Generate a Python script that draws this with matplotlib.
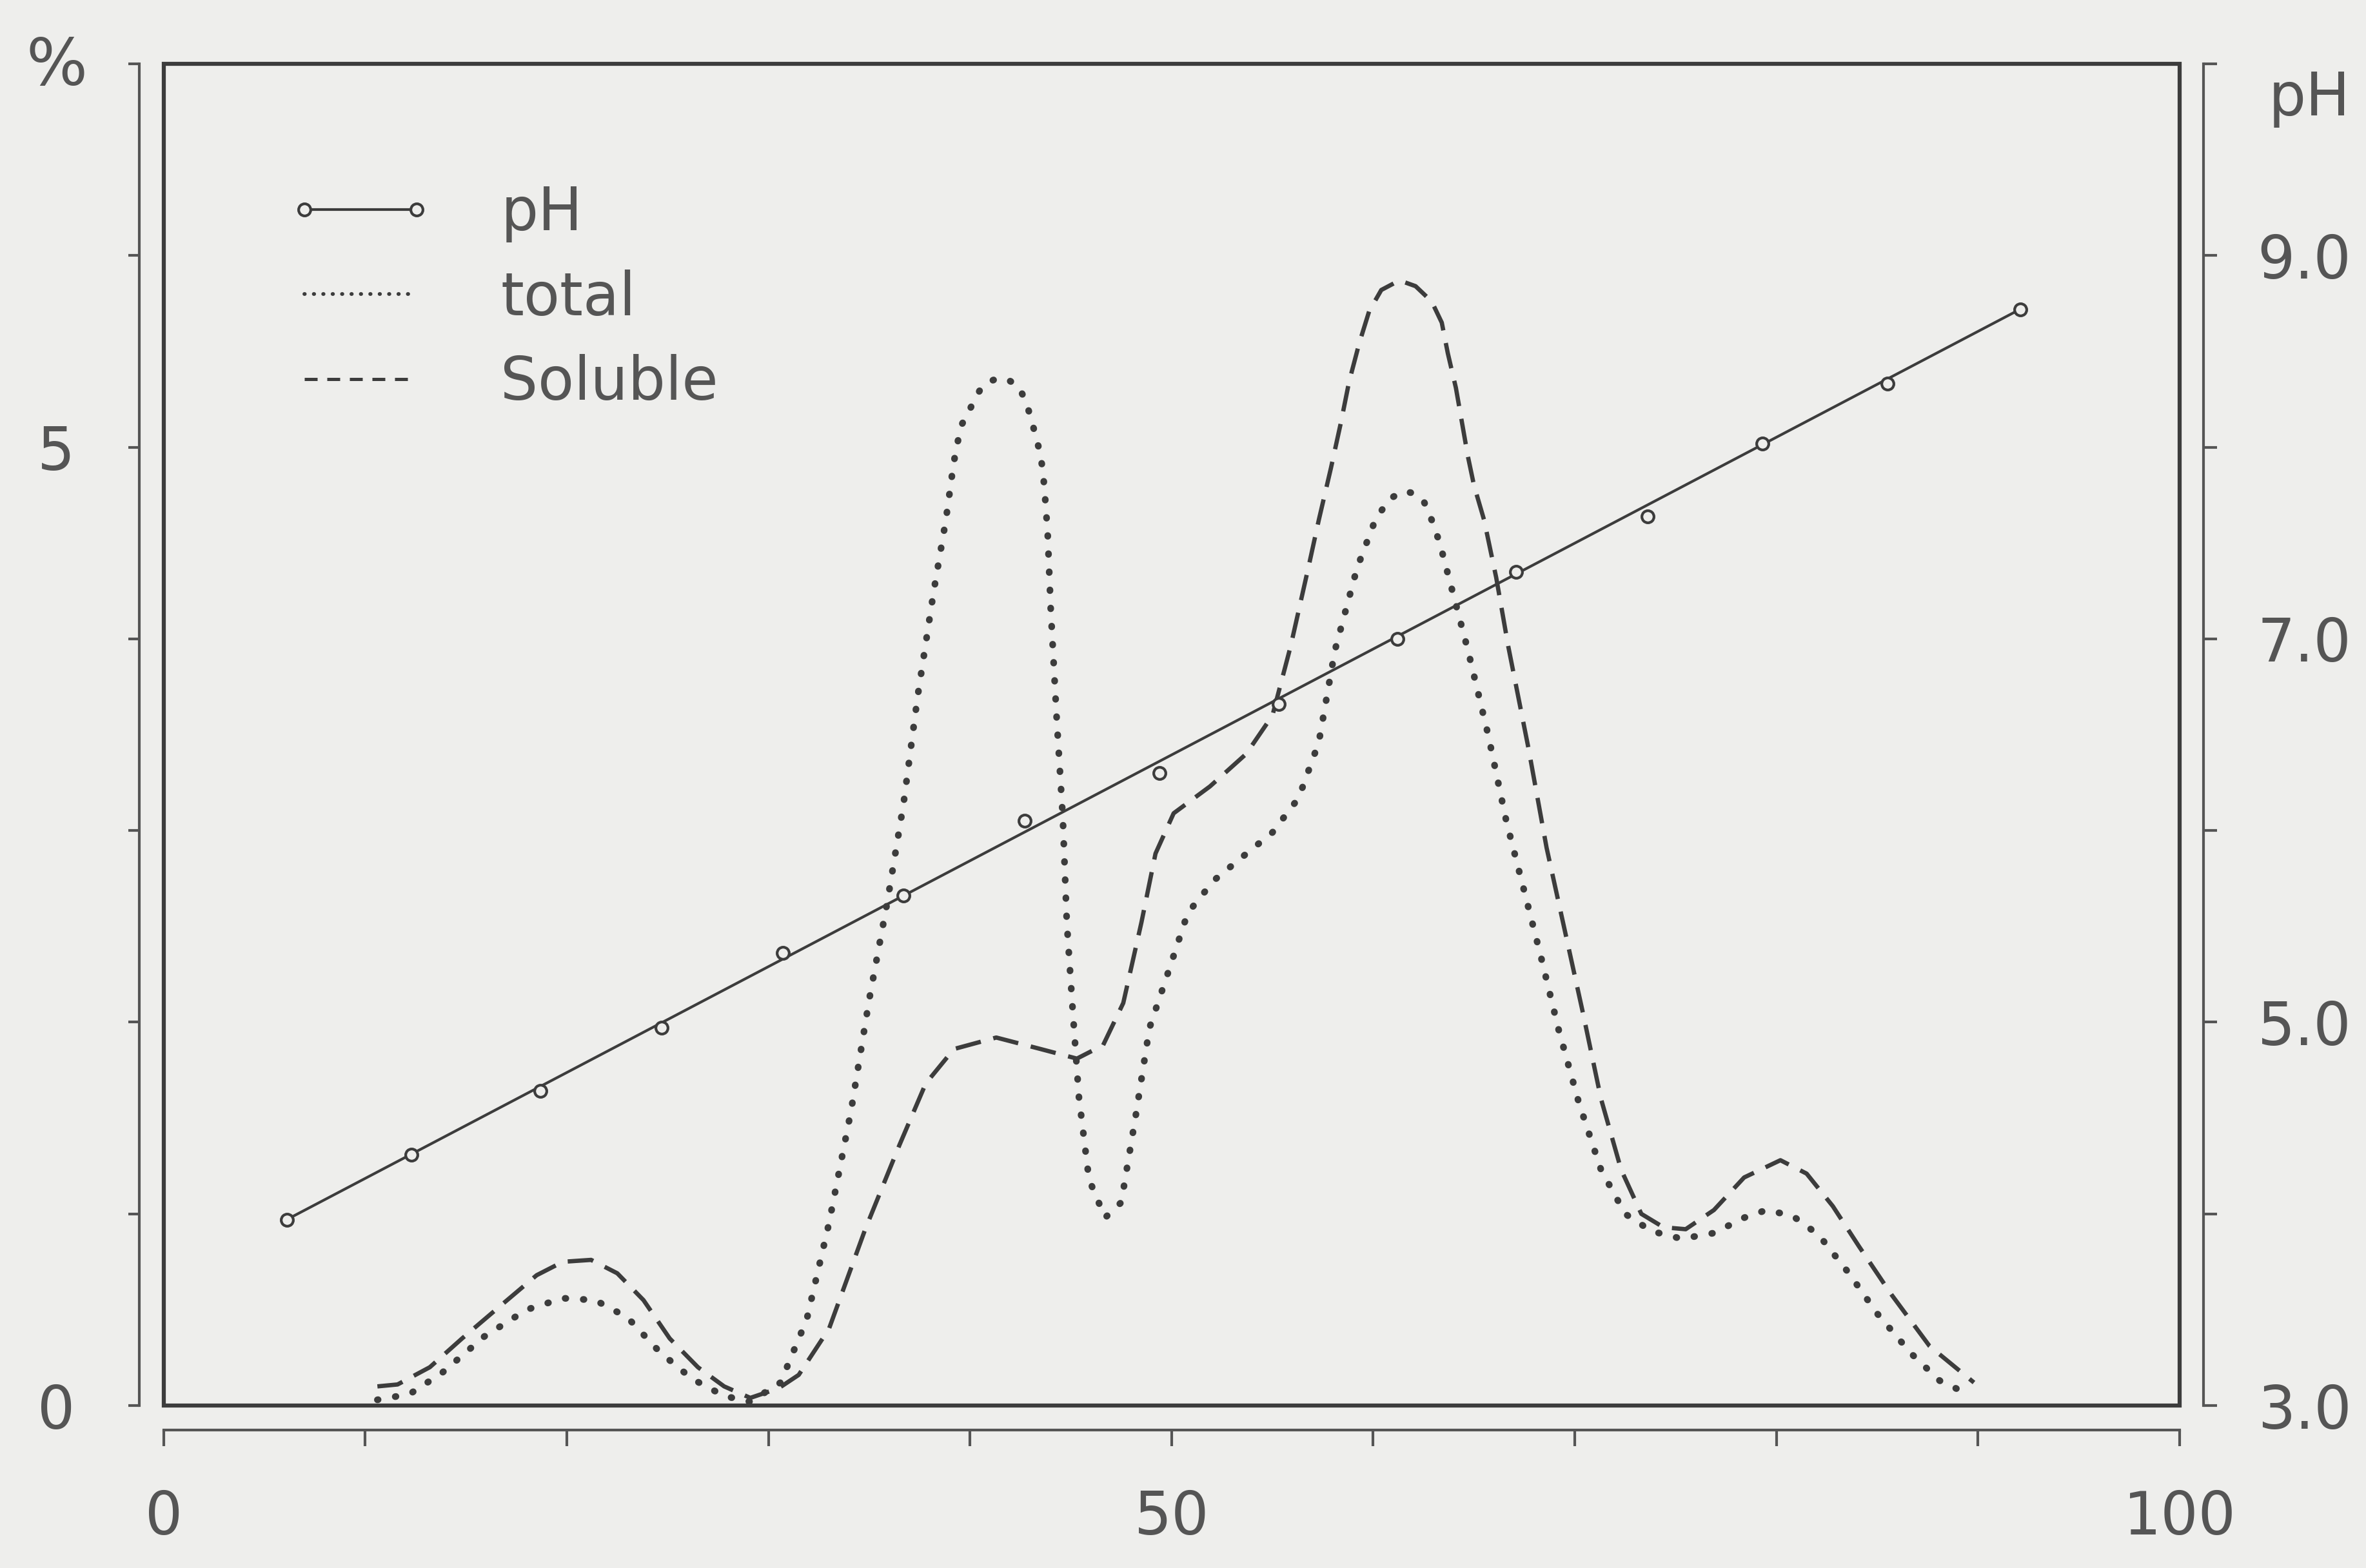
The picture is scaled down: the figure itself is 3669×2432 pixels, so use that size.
import numpy as np
import matplotlib
matplotlib.use('Agg')
import matplotlib.pyplot as plt
from matplotlib.lines import Line2D
from matplotlib.patches import Rectangle

# values
ph_x = [6.1, 12.3, 18.7, 24.7, 30.7, 36.7, 42.7, 49.4, 55.3, 61.2, 67.1, 73.6, 79.3, 85.5, 92.1]
ph = [3.97, 4.31, 4.64, 4.97, 5.36, 5.66, 6.05, 6.30, 6.66, 7.00, 7.35, 7.64, 8.02, 8.33, 8.72]

total_x = [10.6, 12.2, 13.8, 15.9, 18.0, 19.8, 21.4, 23.0, 24.6, 26.2, 27.8, 29.1, 30.6, 31.9,
           33.0, 34.1, 35.0, 35.9, 36.7, 37.4, 38.2, 38.8, 39.1, 39.3, 39.6, 40.0, 40.5, 40.9,
           41.4, 41.9, 42.4, 42.8, 43.1, 43.4, 43.6, 43.7, 43.85, 44.0, 44.3, 44.6, 44.8, 45.1,
           45.4, 45.9, 46.7, 47.5, 48.2, 48.9, 49.7, 50.8, 52.1, 53.6, 55.0, 56.3, 57.3, 58.1,
           59.2, 60.1, 60.8, 61.5, 62.0, 62.5, 62.9, 63.3, 64.0, 64.7, 65.7, 66.6, 67.5, 68.3,
           69.2, 70.2, 71.3, 72.5, 73.8, 75.3, 76.9, 78.4, 79.5, 80.8, 82.1, 83.6, 85.0, 86.7,
           88.1, 89.5]
total = [0.03, 0.06, 0.17, 0.36, 0.50, 0.56, 0.55, 0.46, 0.28, 0.14, 0.05, 0.02, 0.12, 0.45,
         0.95, 1.54, 2.12, 2.63, 3.14, 3.70, 4.25, 4.62, 4.85, 4.99, 5.12, 5.20, 5.30, 5.34,
         5.36, 5.35, 5.32, 5.23, 5.12, 5.00, 4.89, 4.77, 4.55, 4.16, 3.58, 3.07, 2.52, 2.05,
         1.61, 1.18, 0.98, 1.06, 1.50, 1.97, 2.22, 2.57, 2.74, 2.87, 2.99, 3.17, 3.46, 3.94,
         4.37, 4.62, 4.73, 4.77, 4.76, 4.72, 4.62, 4.50, 4.22, 3.94, 3.50, 3.05, 2.68, 2.35,
         1.96, 1.58, 1.23, 1.00, 0.91, 0.87, 0.90, 0.98, 1.02, 0.99, 0.89, 0.69, 0.48, 0.27,
         0.13, 0.06]

soluble_x = [10.6, 11.6, 13.2, 14.8, 16.7, 18.5, 19.8, 21.2, 22.5, 23.8, 25.1, 26.5, 27.8, 29.1,
             30.5, 31.5, 33.0, 34.8, 36.5, 37.8, 39.2, 41.3, 43.5, 45.3, 46.6, 47.6, 48.5, 49.2,
             50.1, 51.9, 53.7, 55.0, 55.9, 56.8, 57.3, 57.9, 58.4, 58.8, 59.3, 59.8, 60.4, 61.3,
             62.1, 62.9, 63.4, 63.7, 64.1, 64.4, 64.7, 65.0, 65.5, 66.1, 66.7, 67.7, 68.6, 69.5,
             70.4, 71.3, 72.3, 73.3, 74.4, 75.5, 76.9, 78.4, 80.2, 81.5, 82.8, 84.1, 85.7, 87.6,
             89.8]
soluble = [0.10, 0.11, 0.20, 0.35, 0.52, 0.68, 0.75, 0.76, 0.69, 0.55, 0.35, 0.20, 0.10, 0.04,
           0.09, 0.16, 0.40, 0.92, 1.36, 1.68, 1.86, 1.92, 1.86, 1.81, 1.88, 2.10, 2.52, 2.88,
           3.09, 3.23, 3.40, 3.60, 3.96, 4.38, 4.62, 4.89, 5.13, 5.34, 5.54, 5.71, 5.82, 5.87,
           5.84, 5.76, 5.65, 5.49, 5.31, 5.13, 4.95, 4.80, 4.62, 4.32, 3.96, 3.43, 2.91, 2.48,
           2.05, 1.60, 1.23, 1.00, 0.93, 0.92, 1.02, 1.19, 1.28, 1.21, 1.04, 0.83, 0.58, 0.31,
           0.12]

x_ticks = list(range(0, 101, 10))
x_labels = {0: '0', 50: '50', 100: '100'}
pct_ticks = list(range(0, 8))
pct_labels = {0: '0', 5: '5'}
ph_ticks = list(range(3, 11))
ph_labels = {3: '3.0', 5: '5.0', 7: '7.0', 9: '9.0'}

paper = '#eeeeec'
ink = '#3c3c3c'
txt = '#555555'
fs = 22

fig = plt.figure(figsize=(12.23, 8.1067), dpi=300, facecolor=paper)
ax = fig.add_axes([0.0692, 0.1036, 0.852, 0.8557])
ax.set_facecolor(paper)
ax.set_xlim(0, 100)
ax.set_ylim(0, 7)

# frame round the plot
ax.add_patch(Rectangle((0, 0), 1, 1, transform=ax.transAxes, fill=False,
                       lw=1.5, ec=ink, clip_on=False, zorder=5))

for s in ['top', 'right']:
    ax.spines[s].set_visible(False)
ax.spines['left'].set_position(('outward', 9))
ax.spines['bottom'].set_position(('outward', 9))
for s in ['left', 'bottom']:
    ax.spines[s].set_color('#555555')
    ax.spines[s].set_linewidth(1.0)

ax.set_xticks(x_ticks)
ax.set_xticklabels([x_labels.get(t, '') for t in x_ticks])
ax.set_yticks(pct_ticks)
ax.set_yticklabels([pct_labels.get(t, '') for t in pct_ticks])
ax.tick_params(axis='x', direction='out', length=6, width=1, pad=16,
               labelsize=fs, colors='#555555', labelcolor=txt)
ax.tick_params(axis='y', direction='out', length=4, width=1, pad=20,
               labelsize=fs, colors='#555555', labelcolor=txt)

ax2 = ax.twinx()
ax2.set_ylim(3, 10)
for s in ['top', 'left', 'bottom']:
    ax2.spines[s].set_visible(False)
ax2.spines['right'].set_position(('outward', 9))
ax2.spines['right'].set_color('#555555')
ax2.spines['right'].set_linewidth(1.0)
ax2.set_yticks(ph_ticks)
ax2.set_yticklabels([ph_labels.get(t, '') for t in ph_ticks])
ax2.tick_params(axis='y', direction='out', length=5, width=1, pad=15,
                labelsize=fs, colors='#555555', labelcolor=txt)

dot_style = (0, (0.1, 2.6))
dash_style = (0, (6, 3))

ax.plot(total_x, total, color=ink, lw=2.5, linestyle=dot_style,
        dash_capstyle='round', solid_capstyle='round')
ax.plot(soluble_x, soluble, color=ink, lw=1.6, linestyle=dash_style)

ax2.plot([ph_x[0], ph_x[-1]], [ph[0], ph[-1]], color=ink, lw=1.0)
ax2.plot(ph_x, ph, 'o', ms=4.5, mfc=paper, mec=ink, mew=1.0)

handles = [
    Line2D([], [], color=ink, lw=1.0, marker='o', ms=4.5, mfc=paper, mec=ink, mew=1.0),
    Line2D([], [], color=ink, lw=1.4, linestyle=(0, (0.1, 2.4)), dash_capstyle='round'),
    Line2D([], [], color=ink, lw=1.2, linestyle=(0, (4, 3))),
]
leg = ax2.legend(handles, ['pH', 'total', 'Soluble'], loc='upper left',
                 bbox_to_anchor=(0.061, 0.910), frameon=False, numpoints=2,
                 handlelength=2.5, handletextpad=1.12, labelspacing=0.45,
                 borderpad=0, borderaxespad=0, fontsize=fs)
for t in leg.get_texts():
    t.set_color(txt)

fig.text(0.024, 0.957, '%', fontsize=fs + 2, color=txt, ha='center', va='center')
fig.text(0.976, 0.937, 'pH', fontsize=fs, color=txt, ha='center', va='center')

fig.savefig('out.png', dpi=300, facecolor=paper)
